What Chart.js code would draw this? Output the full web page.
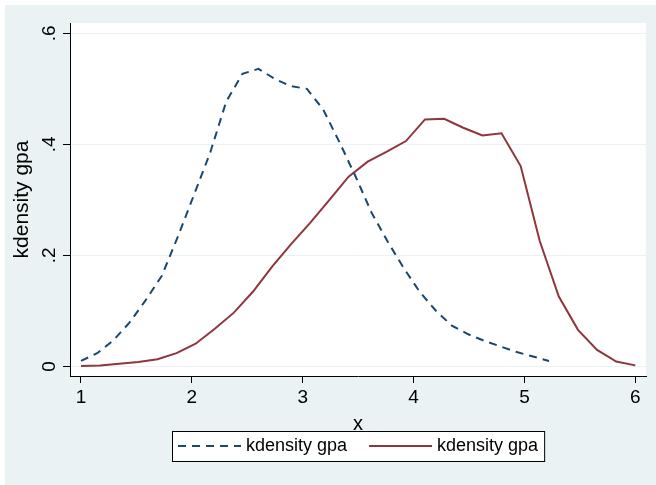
<!DOCTYPE html>
<html lang="en">
<head>
<meta charset="UTF-8">
<title>kdensity gpa</title>
<script src="https://cdn.jsdelivr.net/npm/chart.js"></script>
<style>
  html, body { margin: 0; padding: 0; background: #fff; }
  canvas { display: block; }
</style>
</head>
<body>
<canvas id="chart" width="656" height="485"></canvas>
<script>
// values
const gpaBlue = [1.000, 1.146, 1.291, 1.437, 1.582, 1.728, 1.874, 2.019, 2.165, 2.310,
                 2.456, 2.601, 2.747, 2.893, 3.038, 3.184, 3.329, 3.475, 3.621, 3.766,
                 3.912, 4.057, 4.203, 4.349, 4.494, 4.640, 4.785, 4.931, 5.077, 5.222];
const densBlue = [0.010, 0.024, 0.047, 0.079, 0.119, 0.163, 0.234, 0.309, 0.385, 0.477,
                  0.527, 0.536, 0.518, 0.505, 0.500, 0.463, 0.405, 0.343, 0.277, 0.225,
                  0.177, 0.134, 0.100, 0.073, 0.058, 0.046, 0.036, 0.026, 0.018, 0.010];
const gpaRed = [1.000, 1.172, 1.345, 1.517, 1.690, 1.862, 2.034, 2.207, 2.379, 2.552,
                2.724, 2.897, 3.069, 3.241, 3.414, 3.586, 3.759, 3.931, 4.103, 4.276,
                4.448, 4.621, 4.793, 4.966, 5.138, 5.310, 5.483, 5.655, 5.828, 6.000];
const densRed = [0.001, 0.002, 0.005, 0.008, 0.013, 0.024, 0.041, 0.068, 0.097, 0.135,
                 0.180, 0.221, 0.259, 0.300, 0.342, 0.369, 0.387, 0.406, 0.445, 0.446,
                 0.430, 0.416, 0.420, 0.361, 0.226, 0.126, 0.066, 0.030, 0.009, 0.002];
const seriesLabels = ['kdensity gpa', 'kdensity gpa'];
const xTicks = [1, 2, 3, 4, 5, 6];
const yTicks = [0, 0.2, 0.4, 0.6];
const yTickLabels = ['0', '.2', '.4', '.6'];

const FONT = '"Liberation Sans", Arial, Helvetica, sans-serif';
const BG = '#eaf2f3';

function toPoints(xs, ys) {
  return xs.map((x, i) => ({ x: x, y: ys[i] }));
}

// the stata-ish bits chart.js won't do on its own:
// outer frame, vertical y tick labels, boxed legend under the axis
const stataLook = {
  id: 'stataLook',
  beforeDraw(chart) {
    const ctx = chart.ctx, a = chart.chartArea;
    ctx.save();
    ctx.fillStyle = '#fff';
    ctx.fillRect(0, 0, chart.width, chart.height);
    ctx.fillStyle = BG;
    ctx.fillRect(5, 5, chart.width - 5, chart.height - 5);
    ctx.fillStyle = '#fff';
    ctx.fillRect(a.left, a.top, a.right - a.left, a.bottom - a.top);
    ctx.restore();
  },
  afterDraw(chart) {
    const ctx = chart.ctx;
    const yScale = chart.scales.y;
    const a = chart.chartArea;

    ctx.save();
    ctx.fillStyle = '#000';
    ctx.font = '19px ' + FONT;
    ctx.textAlign = 'center';
    ctx.textBaseline = 'middle';
    yTicks.forEach((v, i) => {
      ctx.save();
      ctx.translate(50, yScale.getPixelForValue(v));
      ctx.rotate(-Math.PI / 2);
      ctx.fillText(yTickLabels[i], 0, 0);
      ctx.restore();
    });

    // legend
    ctx.font = '18px ' + FONT;
    const sample = 63, gapText = 5, gapItem = 22, pad = 6;
    const sets = chart.data.datasets;
    const widths = sets.map(d => ctx.measureText(d.label).width);
    let total = pad * 2 + gapItem * (sets.length - 1);
    widths.forEach(w => { total += sample + gapText + w; });
    const boxTop = 431, boxH = 30;
    const boxLeft = Math.round((a.left + a.right) / 2 - total / 2);
    ctx.fillStyle = '#fff';
    ctx.fillRect(boxLeft, boxTop, total, boxH);
    ctx.strokeStyle = '#000';
    ctx.lineWidth = 1;
    ctx.strokeRect(boxLeft + 0.5, boxTop + 0.5, total, boxH);

    const midY = boxTop + boxH / 2;
    let x = boxLeft + pad;
    sets.forEach((d, i) => {
      ctx.strokeStyle = d.borderColor;
      ctx.lineWidth = d.borderWidth;
      ctx.setLineDash(d.borderDash || []);
      ctx.beginPath();
      ctx.moveTo(x, midY);
      ctx.lineTo(x + sample, midY);
      ctx.stroke();
      ctx.setLineDash([]);
      x += sample + gapText;
      ctx.fillStyle = '#000';
      ctx.textAlign = 'left';
      ctx.fillText(d.label, x, midY);
      x += widths[i] + gapItem;
    });
    ctx.restore();
  }
};

new Chart(document.getElementById('chart'), {
  type: 'line',
  data: {
    datasets: [
      {
        label: seriesLabels[0],
        data: toPoints(gpaBlue, densBlue),
        borderColor: '#1a476f',
        borderWidth: 2,
        borderDash: [8, 6],
        pointRadius: 0,
        tension: 0,
        fill: false
      },
      {
        label: seriesLabels[1],
        data: toPoints(gpaRed, densRed),
        borderColor: '#90353b',
        borderWidth: 2,
        pointRadius: 0,
        tension: 0,
        fill: false
      }
    ]
  },
  options: {
    responsive: false,
    animation: false,
    devicePixelRatio: 1,
    layout: { padding: { left: 0, top: 23, right: 10, bottom: 0 } },
    plugins: {
      legend: { display: false },
      tooltip: { enabled: false }
    },
    scales: {
      x: {
        type: 'linear',
        position: 'bottom',
        min: 0.9008,
        max: 6.0965,
        afterBuildTicks: s => { s.ticks = xTicks.map(v => ({ value: v })); },
        afterFit: s => { s.height = 109; },
        grid: { drawOnChartArea: false, drawTicks: true, tickLength: 7, tickColor: '#000' },
        border: { color: '#000', width: 1 },
        ticks: {
          color: '#000',
          font: { family: FONT, size: 19 },
          padding: 3,
          maxRotation: 0,
          autoSkip: false
        },
        title: {
          display: true,
          text: 'x',
          color: '#000',
          font: { family: FONT, size: 20 },
          padding: { top: 0, bottom: 49 }
        }
      },
      y: {
        min: -0.0171,
        max: 0.6186,
        afterBuildTicks: s => { s.ticks = yTicks.map(v => ({ value: v })); },
        afterFit: s => { s.width = 70; },
        grid: { color: BG, lineWidth: 1, tickLength: 7, tickColor: '#000' },
        border: { color: '#000', width: 1 },
        ticks: { display: false },
        title: {
          display: true,
          text: 'kdensity gpa',
          color: '#000',
          font: { family: FONT, size: 21 },
          padding: { top: 10, bottom: 0 }
        }
      }
    }
  },
  plugins: [stataLook]
});
</script>
</body>
</html>
